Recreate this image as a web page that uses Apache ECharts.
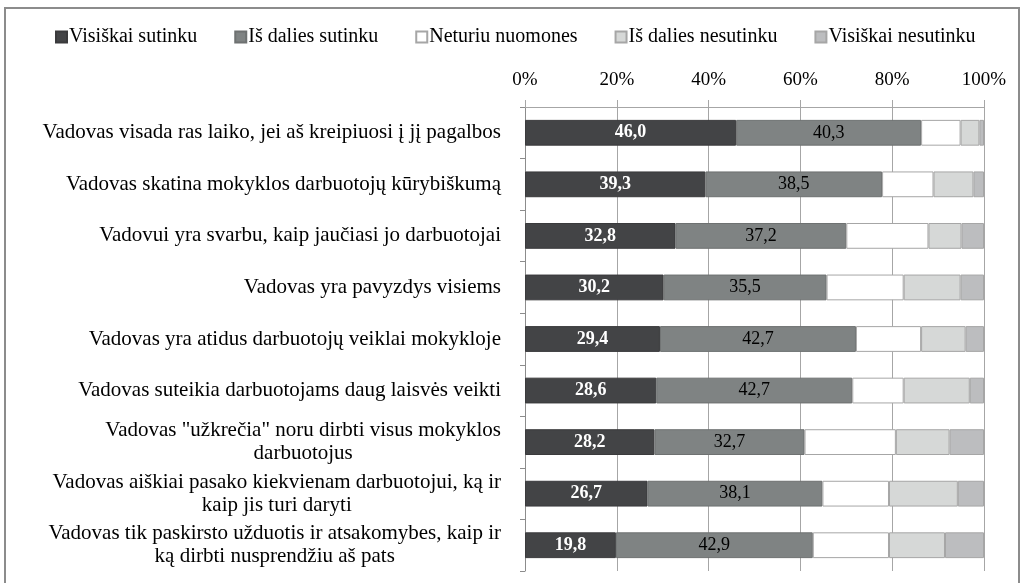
<!DOCTYPE html>
<html>
<head>
<meta charset="utf-8">
<script src="https://cdn.jsdelivr.net/npm/echarts@6/dist/echarts.min.js"></script>
<style>
  html, body { margin: 0; padding: 0; background: #fff; }
  #chart { width: 1026px; height: 583px; }
</style>
</head>
<body>
<div id="chart"></div>
<script>
// teiginiai (kategorijos)
const categories = [
  'Vadovas visada ras laiko, jei aš kreipiuosi į jį pagalbos',
  'Vadovas skatina mokyklos darbuotojų kūrybiškumą',
  'Vadovui yra svarbu, kaip jaučiasi jo darbuotojai',
  'Vadovas yra pavyzdys visiems',
  'Vadovas yra atidus darbuotojų veiklai mokykloje',
  'Vadovas suteikia darbuotojams daug laisvės veikti',
  'Vadovas "užkrečia" noru dirbti visus mokyklos\ndarbuotojus',
  'Vadovas aiškiai pasako kiekvienam darbuotojui, ką ir\nkaip jis turi daryti',
  'Vadovas tik paskirsto užduotis ir atsakomybes, kaip ir\nką dirbti nusprendžiu aš pats'
]
const seriesNames = ['Visiškai sutinku', 'Iš dalies sutinku', 'Neturiu nuomones', 'Iš dalies nesutinku', 'Visiškai nesutinku']
const fullyAgree = [46.0, 39.3, 32.8, 30.2, 29.4, 28.6, 28.2, 26.7, 19.8]
const partlyAgree = [40.3, 38.5, 37.2, 35.5, 42.7, 42.7, 32.7, 38.1, 42.9]
const noOpinion = [8.6, 11.2, 17.9, 16.8, 14.2, 11.2, 19.9, 14.5, 16.6]
const partlyDisagree = [4.1, 8.7, 7.2, 12.4, 9.7, 14.4, 11.7, 15.0, 12.2]
const fullyDisagree = [1.0, 2.3, 4.9, 5.1, 4.0, 3.1, 7.5, 5.7, 8.5]
const xTicks = [0, 20, 40, 60, 80, 100]

const serif = "'Liberation Serif', 'DejaVu Serif', serif"
const fmt = (p) => p.value.toFixed(1).replace('.', ',')

const chart = echarts.init(document.getElementById('chart'))

const bar = (name, data, color, border, label) => ({
  name,
  type: 'bar',
  stack: 'total',
  data,
  barCategoryGap: '50%',
  itemStyle: { color, borderColor: border, borderWidth: 1 },
  label: label || { show: false },
  emphasis: { disabled: true }
})

chart.setOption({
  animation: false,
  graphic: [{
    type: 'rect',
    shape: { x: 5, y: 8, width: 1014, height: 600 },
    style: { fill: 'none', stroke: '#8c8c8c', lineWidth: 2 },
    silent: true
  }],
  legend: {
    top: 22,
    left: 50,
    itemWidth: 11,
    itemHeight: 11,
    itemGap: 37,
    icon: 'rect',
    textStyle: { fontFamily: serif, fontSize: 20, color: '#000', padding: [0, 0, 0, -3] },
    data: seriesNames
  },
  grid: { left: 525, right: 42, top: 107, bottom: 12 },
  xAxis: {
    type: 'value',
    position: 'top',
    min: xTicks[0],
    max: xTicks[xTicks.length - 1],
    interval: 20,
    axisLine: { show: true, lineStyle: { color: '#a6a6a6' } },
    axisTick: { show: true, length: 7, lineStyle: { color: '#a6a6a6' } },
    splitLine: { show: true, lineStyle: { color: '#a6a6a6' } },
    axisLabel: { formatter: '{value}%', fontFamily: serif, fontSize: 19, color: '#000', margin: 17 }
  },
  yAxis: {
    type: 'category',
    inverse: true,
    data: categories,
    axisLine: { show: true, lineStyle: { color: '#8c8c8c' } },
    axisTick: { show: true, length: 5, lineStyle: { color: '#8c8c8c' } },
    axisLabel: {
      fontFamily: serif,
      fontSize: 21,
      color: '#000',
      margin: 24,
      lineHeight: 23,
      formatter: (v) => v.indexOf('\n') < 0 ? v : v.split('\n').map(s => '{c|' + s + '}').join('\n'),
      rich: { c: { align: 'center', fontFamily: serif, fontSize: 21, lineHeight: 23, color: '#000' } }
    }
  },
  series: [
    bar(seriesNames[0], fullyAgree, '#434446', '#3a3a3c',
      { show: true, position: 'inside', formatter: fmt, color: '#fff', fontWeight: 'bold', fontFamily: serif, fontSize: 18 }),
    bar(seriesNames[1], partlyAgree, '#7f8383', '#6e7171',
      { show: true, position: 'inside', formatter: fmt, color: '#000', fontFamily: serif, fontSize: 18 }),
    bar(seriesNames[2], noOpinion, '#ffffff', '#a6a6a6'),
    bar(seriesNames[3], partlyDisagree, '#d6d8d7', '#a6a6a6'),
    bar(seriesNames[4], fullyDisagree, '#bcbdbf', '#a6a6a6')
  ]
})
</script>
</body>
</html>
